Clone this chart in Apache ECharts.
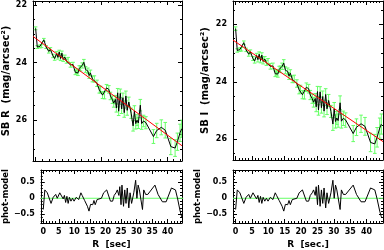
<!DOCTYPE html>
<html><head><meta charset="utf-8">
<script src="https://cdn.jsdelivr.net/npm/echarts@6/dist/echarts.min.js"></script>
<style>html,body{margin:0;padding:0;background:#fff}#c{width:384px;height:250px}</style>
</head><body><div id="c"></div>
<script>
// ---- data ----
const R = [0,0.5,1.3,1.8,2.5,3.2,4.0,4.5,5.3,5.8,6.4,6.8,7.2,7.6,8.0,8.4,8.9,9.4,9.9,10.6,11.4,12.1,12.5,12.9,13.3,13.7,14.2,14.7,15.2,15.9,16.3,16.7,17.3,17.9,18.7,19.4,19.8,20.4,21.0,21.6,22.3,22.8,23.4,23.8,24.3,24.6,25.0,25.3,25.8,26.2,26.6,27.0,27.5,27.9,28.4,29.1,29.7,30.1,30.5,30.9,31.3,31.9,32.3,32.9,33.6,35.9,36.9,38.3,39.5,41.2,42.5,43.2,44.0,44.5];
const sbR = [22.81,23.46,23.44,23.43,23.21,23.46,23.61,23.54,23.77,23.86,
  23.68,23.82,23.63,23.86,23.67,23.89,23.81,23.95,23.90,24.08,
  24.07,24.34,24.30,24.36,24.20,24.20,24.10,23.99,24.24,24.29,
  24.45,24.36,24.57,24.57,24.72,24.95,24.94,25.13,25.14,24.88,
  24.93,25.16,25.29,25.41,25.28,25.58,25.05,25.69,25.07,25.61,
  25.22,25.74,25.16,25.66,25.37,25.76,26.20,25.68,26.12,26.00,
  26.10,25.48,26.12,26.03,26.09,26.57,26.36,26.25,26.35,26.92,
  26.97,26.75,26.44,26.30];
const sbI = [22.15,22.91,22.88,22.87,22.64,22.89,23.04,22.96,23.19,23.28,
  23.08,23.23,23.04,23.26,23.07,23.29,23.21,23.34,23.29,23.46,
  23.45,23.72,23.67,23.73,23.57,23.56,23.46,23.35,23.60,23.64,
  23.80,23.70,23.91,23.90,24.06,24.28,24.26,24.45,24.45,24.19,
  24.24,24.46,24.59,24.71,24.58,24.87,24.34,24.98,24.35,24.90,
  24.51,25.02,24.44,24.94,24.65,25.03,25.47,24.94,25.38,25.26,
  25.35,24.73,25.37,25.27,25.33,25.80,25.58,25.46,25.55,26.11,
  26.16,25.93,25.61,25.47];
const errR = [0.05,0.05,0.05,0.05,0.05,0.05,0.06,0.06,0.06,0.06,
  0.06,0.06,0.06,0.07,0.07,0.07,0.07,0.07,0.08,0.08,
  0.08,0.08,0.08,0.09,0.09,0.09,0.09,0.1,0.1,0.1,
  0.1,0.1,0.1,0.11,0.11,0.11,0.12,0.12,0.12,0.12,
  0.13,0.13,0.13,0.14,0.14,0.14,0.15,0.15,0.15,0.16,
  0.16,0.16,0.17,0.17,0.17,0.18,0.18,0.18,0.19,0.19,
  0.19,0.2,0.2,0.2,0.21,0.24,0.25,0.26,0.27,0.28,
  0.29,0.3,0.3,0.3];
const errI = [0.06,0.06,0.06,0.06,0.06,0.06,0.07,0.07,0.07,0.07,
  0.07,0.08,0.08,0.08,0.08,0.09,0.09,0.09,0.1,0.1,
  0.1,0.1,0.1,0.11,0.11,0.11,0.11,0.12,0.12,0.12,
  0.12,0.12,0.12,0.13,0.13,0.14,0.14,0.14,0.15,0.15,
  0.15,0.16,0.16,0.17,0.17,0.17,0.18,0.18,0.18,0.19,
  0.19,0.2,0.2,0.2,0.21,0.21,0.22,0.22,0.23,0.23,
  0.23,0.24,0.24,0.25,0.25,0.28,0.29,0.3,0.31,0.32,
  0.33,0.34,0.35,0.35];
const residR = [-0.35,0.26,0.17,0.12,-0.16,0.03,0.12,0.0,0.17,0.22,
  -0.02,0.09,-0.13,0.06,-0.16,0.03,-0.09,0.0,-0.09,0.03,
  -0.04,0.17,0.09,0.12,-0.07,-0.11,-0.25,-0.4,-0.19,-0.2,
  -0.07,-0.2,-0.04,-0.09,0.0,0.17,0.12,0.26,0.22,-0.09,
  -0.09,0.09,0.17,0.26,0.09,0.36,-0.2,0.41,-0.25,0.26,
  -0.16,0.32,-0.3,0.17,-0.16,0.17,0.56,0.0,0.41,0.26,
  0.32,-0.35,0.26,0.12,0.12,0.41,0.12,-0.11,-0.11,0.32,
  0.26,-0.02,-0.4,-0.58];
const residI = residR.slice();
// model lines (endpoints, R and SB)
const modelR_R = [-0.8, 44.6], modelR_SB = [23.09, 26.89];
const modelI_R = [-0.8, 45.0], modelI_SB = [22.55, 26.08];
// zero reference level of the residual panels
const zeroR = [-0.8, 45.0], zeroV = [0, 0];
// tick labels
const xMajor = [0,5,10,15,20,25,30,35,40];
const xMajorTL = [0,20,40];
const yMajorSB = [22,24,26];
const yMajorRes = [-0.5,0,0.5];
const titles = {sbR:'SB R  (mag/arcsec²)', sbI:'SB I  (mag/arcsec²)', res:'phot-model', xL:'R  [sec]', xR:'R  [sec.]'};

// ---- chart ----
const GREEN = '#66ff66';
const FONT = 'DejaVu Sans';
function seq(a,b,s){const o=[];for(let k=0;a+k*s<=b+1e-9;k++)o.push(+(a+k*s).toFixed(4));return o;}
const grids = [
  {left:32, top:1, width:150, height:160},
  {left:233, top:1, width:150, height:159},
  {left:32, top:170, width:150, height:58},
  {left:233, top:170, width:150, height:58}
];
const xAxes=[], yAxes=[];
const lab = {fontFamily:FONT, fontWeight:'bold', fontSize:8, color:'#000'};
const nameStyle = {fontFamily:FONT,fontWeight:'bold',fontSize:9,color:'#000'};
const ln={show:true,onZero:false,lineStyle:{color:'#000',width:1}};
const noLn={show:false,onZero:false};
function addX(g,min,max,majors,minors,showLab,name){
  const b={gridIndex:g,type:'value',min,max,splitLine:{show:false},axisPointer:{show:false}};
  xAxes.push(Object.assign({},b,{position:'bottom',axisLine:ln,
    axisTick:{show:true,inside:true,length:4,customValues:majors,lineStyle:{color:'#000'}},
    axisLabel:showLab?Object.assign({show:true,margin:5,customValues:majors},lab):{show:false},
    name:name||'',nameLocation:'middle',nameGap:17,nameTextStyle:nameStyle}));
  xAxes.push(Object.assign({},b,{position:'bottom',axisLine:noLn,
    axisTick:{show:true,inside:true,length:2,customValues:minors,lineStyle:{color:'#000'}},axisLabel:{show:false}}));
  xAxes.push(Object.assign({},b,{position:'top',axisLine:ln,
    axisTick:{show:true,inside:true,length:4,customValues:majors,lineStyle:{color:'#000'}},axisLabel:{show:false}}));
  xAxes.push(Object.assign({},b,{position:'top',axisLine:noLn,
    axisTick:{show:true,inside:true,length:2,customValues:minors,lineStyle:{color:'#000'}},axisLabel:{show:false}}));
}
function addY(g,min,max,inv,majors,minors,name,gap,fmt,nfs){
  const b={gridIndex:g,type:'value',min,max,inverse:inv,splitLine:{show:false},axisPointer:{show:false}};
  yAxes.push(Object.assign({},b,{position:'left',axisLine:ln,
    axisTick:{show:true,inside:true,length:4,customValues:majors,lineStyle:{color:'#000'}},
    axisLabel:Object.assign({show:true,margin:6,customValues:majors,formatter:fmt},lab),
    name,nameLocation:'middle',nameGap:gap,nameTextStyle:Object.assign({},nameStyle,{fontSize:nfs})}));
  yAxes.push(Object.assign({},b,{position:'left',axisLine:noLn,
    axisTick:{show:true,inside:true,length:2,customValues:minors,lineStyle:{color:'#000'}},axisLabel:{show:false}}));
  yAxes.push(Object.assign({},b,{position:'right',axisLine:ln,
    axisTick:{show:true,inside:true,length:4,customValues:majors,lineStyle:{color:'#000'}},axisLabel:{show:false}}));
  yAxes.push(Object.assign({},b,{position:'right',axisLine:noLn,
    axisTick:{show:true,inside:true,length:2,customValues:minors,lineStyle:{color:'#000'}},axisLabel:{show:false}}));
}
const fmtSB = v=>String(v);
const fmtRes = v=>v===0?'0':(v<0?'\u2212'+Math.abs(v):String(v));
addX(0,-0.8,44.6,xMajorTL,seq(0,44,2),false,'');
addX(1,-0.8,45.0,xMajor,seq(0,45,1),false,'');
addX(2,-0.8,44.6,xMajor,seq(0,44,1),true,titles.xL);
addX(3,-0.8,45.0,xMajor,seq(0,45,1),true,titles.xR);
addY(0,21.86,27.42,true,yMajorSB,seq(22,27,0.5),titles.sbR,22,fmtSB,10);
addY(1,21.19,26.72,true,yMajorSB,seq(21.5,26.5,0.5),titles.sbI,23,fmtSB,10);
addY(2,-0.77,0.88,false,yMajorRes,seq(-0.7,0.8,0.1),titles.res,26,fmtRes,8.5);
addY(3,-0.77,0.88,false,yMajorRes,seq(-0.7,0.8,0.1),titles.res,28,fmtRes,8.5);

function errSeries(g,sb,err){
  return {type:'custom',xAxisIndex:g*4,yAxisIndex:g*4,clip:true,z:1,silent:true,
    data:R.map((r,i)=>[r,sb[i]-err[i],sb[i]+err[i]]),
    renderItem:function(params,api){
      const x=api.value(0);
      const p1=api.coord([x,api.value(1)]), p2=api.coord([x,api.value(2)]);
      const w=1.8, st={stroke:GREEN,lineWidth:1};
      return {type:'group',children:[
        {type:'line',shape:{x1:p1[0],y1:p1[1],x2:p2[0],y2:p2[1]},style:st},
        {type:'line',shape:{x1:p1[0]-w,y1:p1[1],x2:p1[0]+w,y2:p1[1]},style:st},
        {type:'line',shape:{x1:p2[0]-w,y1:p2[1],x2:p2[0]+w,y2:p2[1]},style:st}
      ]};
    }};
}
function lineSeries(g,xs,ys,color,z){
  return {type:'line',xAxisIndex:g*4,yAxisIndex:g*4,showSymbol:false,symbol:'none',clip:true,z:z,silent:true,
    lineStyle:{color,width:1},data:xs.map((x,i)=>[x,ys[i]])};
}
const series=[
  errSeries(0,sbR,errR),
  lineSeries(0,R,sbR,'#000',3),
  lineSeries(0,modelR_R,modelR_SB,'#ff0000',4),
  errSeries(1,sbI,errI),
  lineSeries(1,R,sbI,'#000',3),
  lineSeries(1,modelI_R,modelI_SB,'#ff0000',4),
  lineSeries(2,zeroR,zeroV,GREEN,2),
  lineSeries(2,R,residR,'#000',3),
  lineSeries(3,zeroR,zeroV,GREEN,2),
  lineSeries(3,R,residI,'#000',3)
];
const chart = echarts.init(document.getElementById('c'),null,{renderer:'canvas'});
chart.setOption({animation:false,backgroundColor:'#fff',grid:grids,xAxis:xAxes,yAxis:yAxes,series});
</script></body></html>
